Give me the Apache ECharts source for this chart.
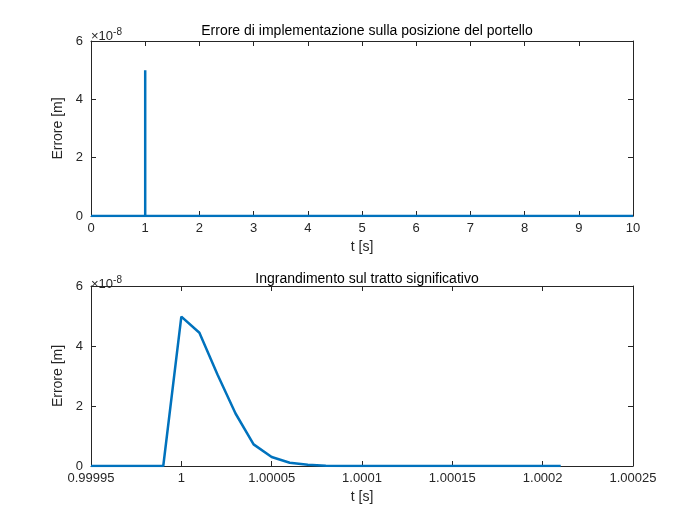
<!DOCTYPE html>
<html><head><meta charset="utf-8">
<script src="https://cdn.jsdelivr.net/npm/echarts@6/dist/echarts.min.js"></script>
<style>html,body{margin:0;background:#fff}#c{width:700px;height:525px}</style>
</head><body><div id="c"></div>
<script>
// values in units of 1e-8 m
const fullT = [0, 0.99999, 1.0, 1.00001, 10];
const fullErr = [0, 0, 5.0, 0, 0];
const zoomT = [0.99995, 0.99999, 1.0, 1.00001, 1.00002, 1.00003, 1.00004, 1.00005, 1.00006, 1.00007, 1.00008, 1.00009, 1.00021];
const zoomErr = [0, 0, 4.98, 4.44, 3.05, 1.75, 0.72, 0.3, 0.11, 0.04, 0.01, 0, 0];
const yTicks = [0, 2, 4, 6];

const chart = echarts.init(document.getElementById('c'));
const font = 'Arial, "Liberation Sans", sans-serif';
const axisLine = { show: true, onZero: false, lineStyle: { color: '#262626', width: 1 } };
const tick = { show: true, inside: true, length: 5, lineStyle: { color: '#262626' } };
function xAx(gi, min, max, interval, fmt) {
  return {
    type: 'value', gridIndex: gi, min, max, interval,
    name: 't [s]', nameLocation: 'middle', nameGap: 24,
    nameTextStyle: { color: '#262626', fontSize: 14, fontFamily: font },
    axisLine, axisTick: tick,
    axisLabel: { color: '#262626', fontSize: 13, fontFamily: font, margin: 6, formatter: fmt },
    splitLine: { show: false }
  };
}
function xTop(gi, min, max, interval) {
  return { type: 'value', gridIndex: gi, min, max, interval, position: 'top', axisLine, axisTick: tick, axisLabel: { show: false }, splitLine: { show: false } };
}
function yAx(gi) {
  return {
    type: 'value', gridIndex: gi, min: 0, max: 6, interval: 2,
    name: 'Errore [m]', nameLocation: 'middle', nameGap: 22,
    nameTextStyle: { color: '#262626', fontSize: 14, fontFamily: font },
    axisLine, axisTick: tick,
    axisLabel: { color: '#262626', fontSize: 13, fontFamily: font, margin: 8 },
    splitLine: { show: false }
  };
}
function yRight(gi) {
  return { type: 'value', gridIndex: gi, min: 0, max: 6, interval: 2, position: 'right', axisLine,
    axisTick: tick, axisLabel: { show: false }, splitLine: { show: false } };
}
const sci = {
  text: '{a|×10}{b|-8}',
  textStyle: { rich: { a: { fontSize: 13, fontWeight: 'normal', color: '#262626', fontFamily: font }, b: { fontSize: 10, fontWeight: 'normal', color: '#262626', fontFamily: font, verticalAlign: 'top', padding: [0, 0, 8, 0] } } }
};
chart.setOption({
  backgroundColor: '#fff',
  animation: false,
  title: [
    { text: 'Errore di implementazione sulla posizione del portello', left: 362, top: 19, textAlign: 'center', textStyle: { fontSize: 14, fontWeight: 'normal', color: '#000', fontFamily: font } },
    { text: 'Ingrandimento sul tratto significativo', left: 362, top: 267, textAlign: 'center', textStyle: { fontSize: 14, fontWeight: 'normal', color: '#000', fontFamily: font } },
    Object.assign({ left: 86, top: 22 }, sci),
    Object.assign({ left: 86, top: 270 }, sci)
  ],
  grid: [
    { left: 91, right: 67, top: 41, height: 175 },
    { left: 91, right: 67, top: 286, height: 180 }
  ],
  xAxis: [
    xAx(0, 0, 10, 1),
    xAx(1, 0.99995, 1.00025, 0.00005, v => String(+v.toFixed(5))),
    xTop(0, 0, 10, 1), xTop(1, 0.99995, 1.00025, 0.00005)
  ],
  yAxis: [yAx(0), yAx(1), yRight(0), yRight(1)],
  series: [
    { type: 'line', xAxisIndex: 0, yAxisIndex: 0, data: fullT.map((t, i) => [t, fullErr[i]]), symbol: 'none', lineStyle: { color: '#0072BD', width: 2.5 } },
    { type: 'line', xAxisIndex: 1, yAxisIndex: 1, data: zoomT.map((t, i) => [t, zoomErr[i]]), symbol: 'none', lineStyle: { color: '#0072BD', width: 2.5 } }
  ]
});
</script></body></html>
